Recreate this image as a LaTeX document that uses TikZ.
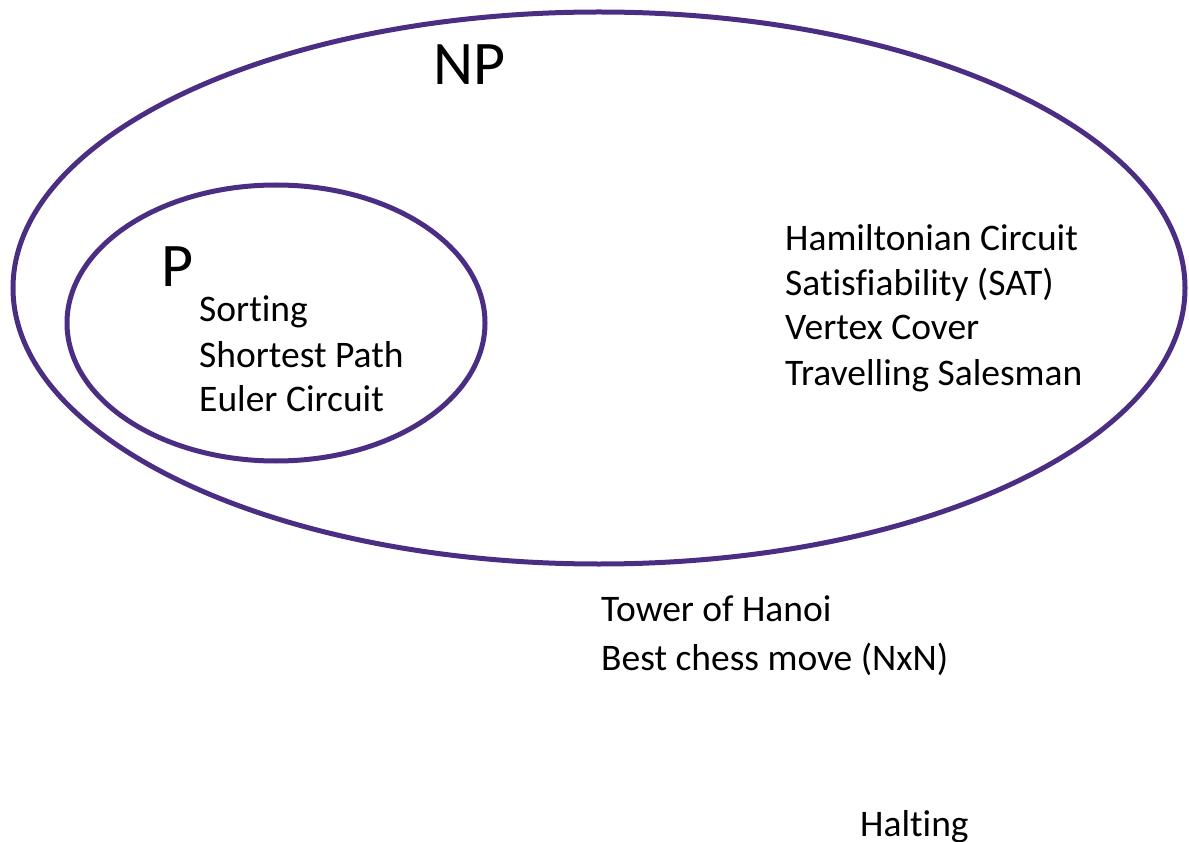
\documentclass[tikz,border=0pt]{standalone}
\usepackage{fontspec}
\setmainfont{Carlito}[Ligatures=NoCommon]
\definecolor{uwpurple}{HTML}{4B2E83}
\begin{document}
\begin{tikzpicture}[x=1pt,y=-1pt,
  setline/.style={draw=uwpurple,line width=5pt},
  item/.style={anchor=base west,inner sep=0pt,font=\fontsize{37.5}{45}\selectfont},
  big/.style={anchor=base west,inner sep=0pt,font=\fontsize{62}{70}\selectfont}]
\useasboundingbox (0,0) rectangle (1189,842);
\draw[setline] (599,288) ellipse [x radius=586, y radius=276];
\draw[setline] (276,323) ellipse [x radius=209, y radius=138];
\node[big] (np) at (433,85) {NP};
\node[big] (p) at (161,287) {P};
\node[item] (sort) at (199,322) {Sorting};
\node[item] (sp) at (199,367) {Shortest Path};
\node[item] (euler) at (199,411) {Euler Circuit};
\node[item] (ham) at (785,251) {Hamiltonian Circuit};
\node[item] (sat) at (785,296) {Satisfiability (SAT)};
\node[item] (vc) at (785,340) {Vertex Cover};
\node[item] (tsp) at (785,385) {Travelling Salesman};
\node[item] (toh) at (601,621) {Tower of Hanoi};
\node[item] (chess) at (601,670) {Best chess move (NxN)};
\node[item] (halt) at (860,836) {Halting};
\end{tikzpicture}
\end{document}
